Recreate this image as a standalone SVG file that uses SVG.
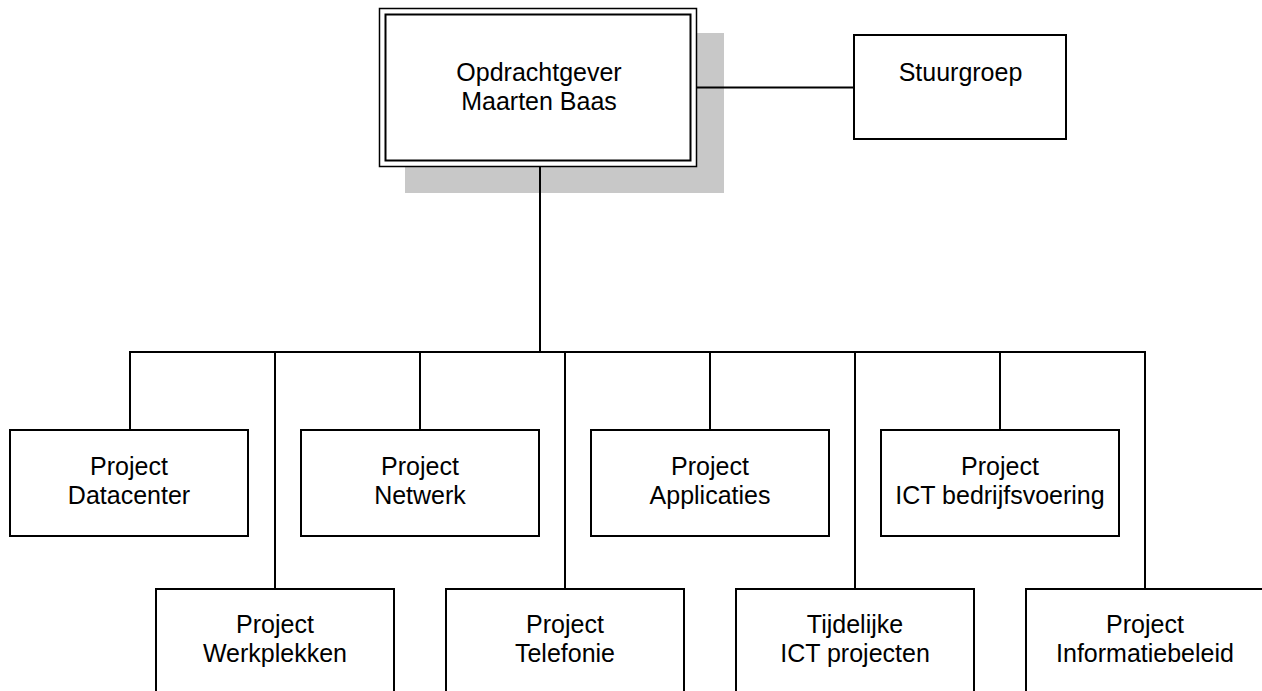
<svg xmlns="http://www.w3.org/2000/svg" width="1262" height="691" viewBox="0 0 1262 691">
<style>
.box{fill:#fff;stroke:#000;stroke-width:2}
.ln{stroke:#000;stroke-width:2;fill:none}
text{font-family:"Liberation Sans",Arial,sans-serif;font-size:25px;fill:#000;text-anchor:middle}
</style>
<rect width="1262" height="691" fill="#fff"/>
<g id="opdrachtgever">
<rect x="405" y="33" width="319" height="160" fill="#c8c8c8"/>
<rect x="379.5" y="8.5" width="317" height="158" fill="#fff" stroke="#000" stroke-width="1.5"/>
<rect x="385.5" y="14.5" width="305" height="146" fill="#fff" stroke="#000" stroke-width="2"/>
<text x="539" y="81">Opdrachtgever</text>
<text x="539" y="109.5">Maarten Baas</text>
</g>
<g id="connectors">
<line class="ln" x1="540" y1="167" x2="540" y2="352"/>
<line class="ln" x1="697" y1="87.5" x2="854" y2="87.5"/>
<line class="ln" x1="129" y1="352" x2="1146" y2="352"/>
<line class="ln" x1="130" y1="351" x2="130" y2="430"/>
<line class="ln" x1="275" y1="351" x2="275" y2="589"/>
<line class="ln" x1="420" y1="351" x2="420" y2="430"/>
<line class="ln" x1="565" y1="351" x2="565" y2="589"/>
<line class="ln" x1="710" y1="351" x2="710" y2="430"/>
<line class="ln" x1="855" y1="351" x2="855" y2="589"/>
<line class="ln" x1="1000" y1="351" x2="1000" y2="430"/>
<line class="ln" x1="1145" y1="351" x2="1145" y2="589"/>
</g>
<g id="stuurgroep">
<rect class="box" x="854" y="35" width="212" height="104"/>
<text x="960.5" y="81">Stuurgroep</text>
</g>
<g id="datacenter">
<rect class="box" x="10" y="430" width="238" height="106"/>
<text x="129" y="475">Project</text>
<text x="129" y="504">Datacenter</text>
</g>
<g id="netwerk">
<rect class="box" x="301" y="430" width="238" height="106"/>
<text x="420" y="475">Project</text>
<text x="420" y="504">Netwerk</text>
</g>
<g id="applicaties">
<rect class="box" x="591" y="430" width="238" height="106"/>
<text x="710" y="475">Project</text>
<text x="710" y="504">Applicaties</text>
</g>
<g id="ictbedrijfsvoering">
<rect class="box" x="881" y="430" width="238" height="106"/>
<text x="1000" y="475">Project</text>
<text x="1000" y="504">ICT bedrijfsvoering</text>
</g>
<g id="werkplekken">
<rect class="box" x="156" y="589" width="238" height="120"/>
<text x="275" y="633">Project</text>
<text x="275" y="662">Werkplekken</text>
</g>
<g id="telefonie">
<rect class="box" x="446" y="589" width="238" height="120"/>
<text x="565" y="633">Project</text>
<text x="565" y="662">Telefonie</text>
</g>
<g id="tijdelijke">
<rect class="box" x="736" y="589" width="238" height="120"/>
<text x="855" y="633">Tijdelijke</text>
<text x="855" y="662">ICT projecten</text>
</g>
<g id="informatiebeleid">
<rect class="box" x="1026" y="589" width="238" height="120"/>
<text x="1145" y="633">Project</text>
<text x="1145" y="662">Informatiebeleid</text>
</g>
</svg>
